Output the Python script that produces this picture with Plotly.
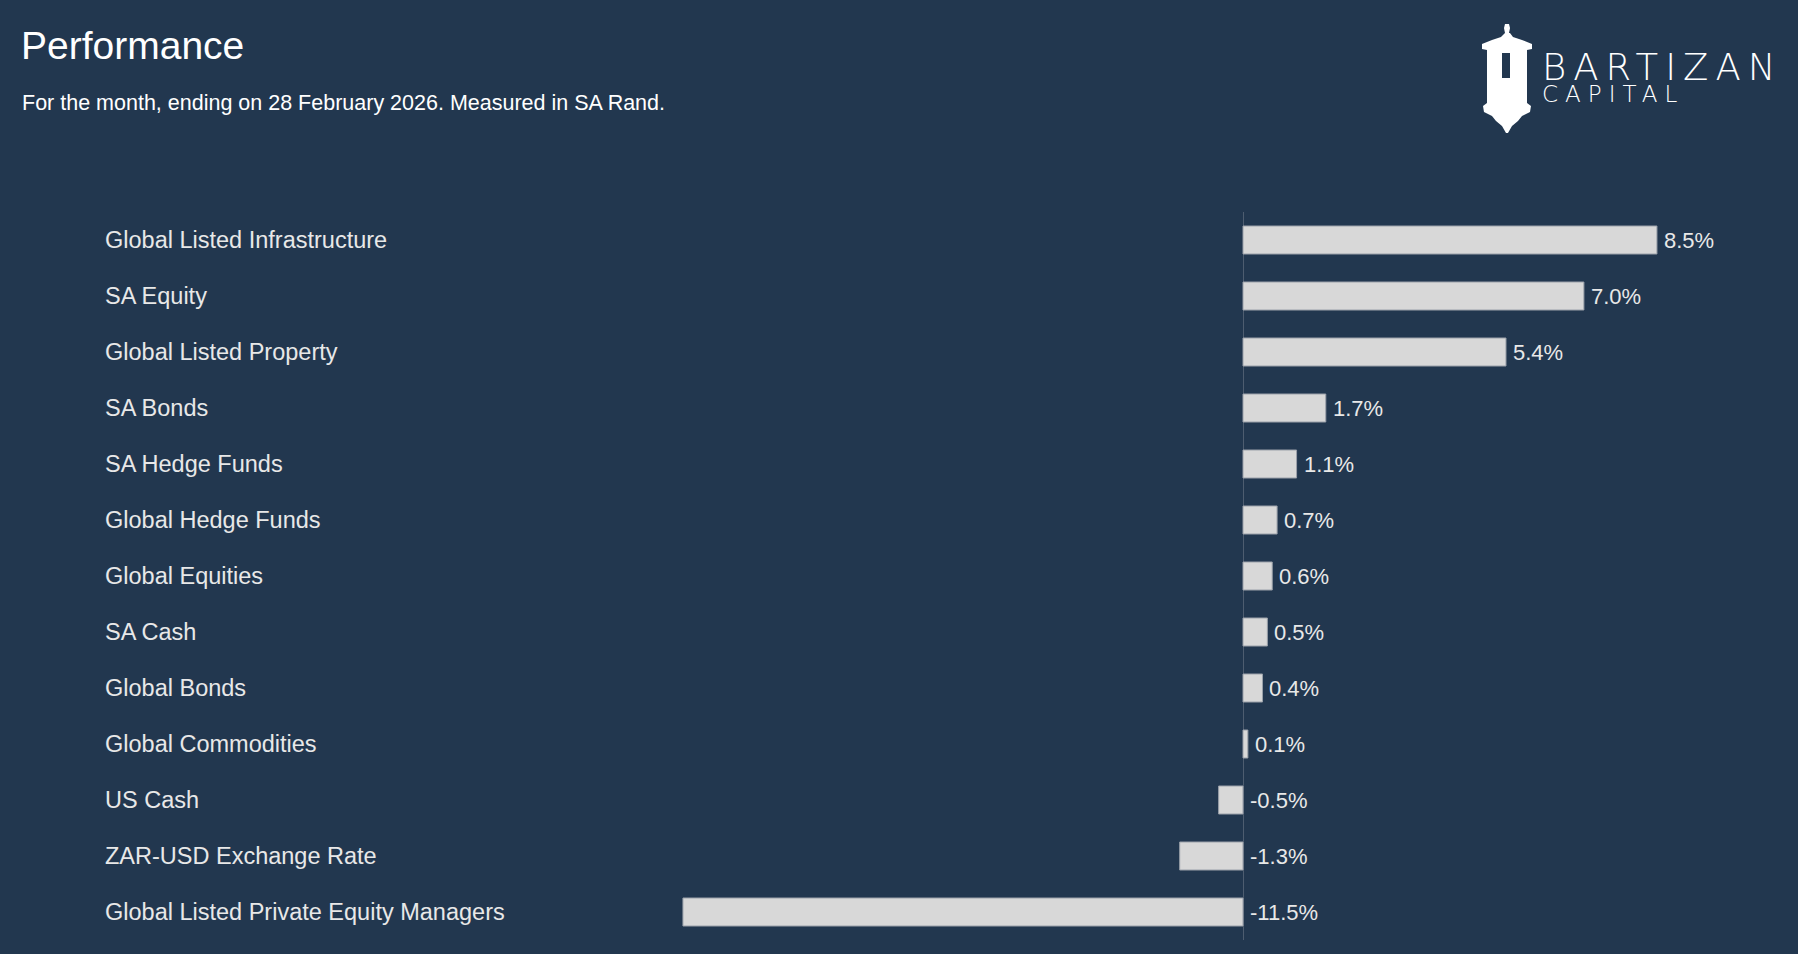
import plotly.graph_objects as go

# ---- data ----
categories = [
    "Global Listed Infrastructure",
    "SA Equity",
    "Global Listed Property",
    "SA Bonds",
    "SA Hedge Funds",
    "Global Hedge Funds",
    "Global Equities",
    "SA Cash",
    "Global Bonds",
    "Global Commodities",
    "US Cash",
    "ZAR-USD Exchange Rate",
    "Global Listed Private Equity Managers",
]
values = [8.5, 7.0, 5.4, 1.7, 1.1, 0.7, 0.6, 0.5, 0.4, 0.1, -0.5, -1.3, -11.5]
value_labels = [f"{v:.1f}%" for v in values]

title_text = "Performance"
subtitle_text = "For the month, ending on 28 February 2026. Measured in SA Rand."
logo_main = "BARTIZAN"
logo_sub = "CAPITAL"

# ---- style ----
BG = "#22374F"
BAR = "#D8D8D8"
BAR_EDGE = "#9BA1AA"
TXT = "#E8E8E8"
FONT = "Liberation Sans, Arial, sans-serif"

W, H = 1798, 954
ML, MR, MT, MB = 102, 40, 212, 14
PW = W - ML - MR
PH = H - MT - MB
ZERO_PX = 1243
PX_PER_UNIT = 48.7
x_lo = -(ZERO_PX - ML) / PX_PER_UNIT
x_hi = (W - MR - ZERO_PX) / PX_PER_UNIT


def px_x(p):
    return (p - ML) / PW


def px_y(p):
    return (H - MB - p) / PH


fig = go.Figure(
    go.Bar(
        x=values,
        y=categories,
        orientation="h",
        width=0.5,
        marker=dict(color=BAR, line=dict(color=BAR_EDGE, width=1)),
        hoverinfo="x+y",
    )
)

annotations = []
for cat, v, lab in zip(categories, values, value_labels):
    annotations.append(
        dict(
            x=max(v, 0), y=cat, xref="x", yref="y", text=lab, showarrow=False,
            xanchor="left", yanchor="middle", xshift=5,
            font=dict(family=FONT, size=22, color=TXT),
        )
    )

# subtitle
annotations.append(
    dict(
        x=px_x(20), y=px_y(103), xref="paper", yref="paper", text=subtitle_text,
        showarrow=False, xanchor="left", yanchor="middle",
        font=dict(family=FONT, size=21.5, color="#FFFFFF"),
    )
)
# logo text (one block, two lines, letter-spaced)
logo_text = (
    f"<span style='font-size:37px;letter-spacing:7px'>{logo_main}</span><br>"
    f"<span style='font-size:23px;letter-spacing:7px'>{logo_sub}</span>"
)
annotations.append(
    dict(
        x=px_x(1541), y=px_y(76), xref="paper", yref="paper", text=logo_text,
        showarrow=False, xanchor="left", yanchor="middle", align="left",
        borderpad=0,
        font=dict(family="DejaVu Sans, sans-serif", size=17, color="#FFFFFF", weight=300),
    )
)


# logo tower (decorative) in pixel coords converted to paper
def path_from(points):
    s = ""
    for i, (a, b) in enumerate(points):
        s += ("M" if i == 0 else "L") + f"{px_x(a):.5f},{px_y(b):.5f} "
    return s + "Z"


tower = [
    (1505, 33), (1510, 33), (1513, 37), (1522, 40), (1532, 44), (1532, 49),
    (1527, 50), (1527, 103), (1531, 106), (1530, 112), (1522, 116), (1518, 121),
    (1512, 126), (1508, 133), (1506, 133), (1502, 126), (1496, 121), (1492, 116),
    (1484, 112), (1483, 106), (1487, 103), (1487, 50), (1482, 49), (1482, 44),
    (1492, 40), (1501, 37),
]
finial = [(1505, 24), (1509, 24), (1510, 28), (1509, 33), (1505, 33), (1504, 28)]
window = [(1502, 53), (1510, 53), (1510, 78), (1502, 78)]

shapes = [
    dict(type="path", xref="paper", yref="paper", path=path_from(tower),
         fillcolor="#FFFFFF", line=dict(width=0), layer="above"),
    dict(type="path", xref="paper", yref="paper", path=path_from(finial),
         fillcolor="#FFFFFF", line=dict(width=0), layer="above"),
    dict(type="path", xref="paper", yref="paper", path=path_from(window),
         fillcolor=BG, line=dict(width=0), layer="above"),
]

fig.update_layout(
    width=W, height=H,
    paper_bgcolor=BG, plot_bgcolor=BG,
    margin=dict(l=ML, r=MR, t=MT, b=MB),
    showlegend=False,
    title=dict(
        text=title_text, xref="container", yref="container",
        x=21 / W, y=1 - 45 / H, xanchor="left", yanchor="middle",
        font=dict(family=FONT, size=39, color="#FFFFFF"),
    ),
    xaxis=dict(
        range=[x_lo, x_hi], showticklabels=False, showgrid=False,
        zeroline=True, zerolinecolor="#4E5D70", zerolinewidth=1,
        showline=False, ticks="", fixedrange=True,
    ),
    yaxis=dict(
        categoryorder="array", categoryarray=categories, autorange="reversed",
        ticklabelposition="inside", ticks="", showgrid=False, showline=False,
        zeroline=False, tickfont=dict(family=FONT, size=23.5, color=TXT),
        fixedrange=True,
    ),
    annotations=annotations,
    shapes=shapes,
)

fig.write_html(
    "out.html",
    config={"displayModeBar": False},
    post_script="document.body.style.margin='0';document.body.style.background='" + BG + "';",
)
